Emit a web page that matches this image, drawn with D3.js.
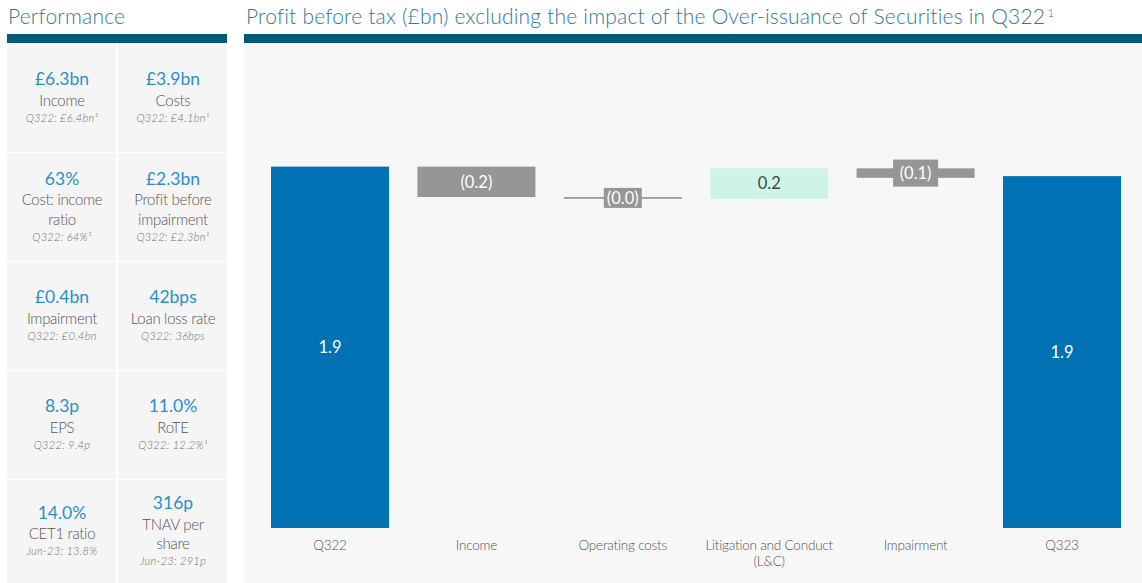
<!DOCTYPE html>
<html><head><meta charset="utf-8">
<script src="https://cdn.jsdelivr.net/npm/d3@7"></script>
<style>
html,body{margin:0;padding:0;background:#fff;}
svg{display:block;}
text{font-family:Lato,"Open Sans",sans-serif;}
</style></head>
<body>
<script>
// ---- Data ----
const categories = ["Q322","Income","Operating costs","Litigation and Conduct\n(L&C)","Impairment","Q323"];
const stepValues = [1.90, -0.16, -0.009, 0.16, -0.05, 1.85];
const stepTypes = ["total","delta","delta","delta","delta","total"];
const stepLabels = ["1.9","(0.2)","(0.0)","0.2","(0.1)","1.9"];

const perfValues = ["£6.3bn","£3.9bn","63%","£2.3bn","£0.4bn","42bps","8.3p","11.0%","14.0%","316p"];
const perfLabels = ["Income","Costs","Cost: income\nratio","Profit before\nimpairment","Impairment","Loan loss rate","EPS","RoTE","CET1 ratio","TNAV per\nshare"];
const perfCompare = ["Q322: £6.4bn¹","Q322: £4.1bn¹","Q322: 64%¹","Q322: £2.3bn¹","Q322: £0.4bn","Q322: 36bps","Q322: 9.4p","Q322: 12.2%¹","Jun-23: 13.8%","Jun-23: 291p"];

const titleLeft = "Performance";
const titleRight = "Profit before tax (£bn) excluding the impact of the Over-issuance of Securities in Q322";

// ---- Drawing ----
const W = 1142, H = 583;
const svg = d3.select("body").append("svg").attr("width", W).attr("height", H);

const teal = "#005a78", titleCol = "#337a96";

// Left panel
svg.append("text").attr("x", 8).attr("y", 24).attr("font-size", 21).attr("font-weight", 300).attr("letter-spacing", 0.2).attr("fill", titleCol).text(titleLeft);
svg.append("rect").attr("x", 7).attr("y", 34).attr("width", 220).attr("height", 9).attr("fill", teal);

const colX = d3.scaleBand().domain([0,1]).range([7, 227]);
const rowEdges = [43, 152, 261, 370, 479, 583];
const g = svg.append("g");
perfValues.forEach((v, i) => {
  const c = i % 2, r = Math.floor(i / 2);
  const x0 = colX(c), y0 = rowEdges[r], h = rowEdges[r+1] - rowEdges[r];
  g.append("rect").attr("x", x0 + (c ? 1 : 0)).attr("y", y0 + (r ? 1 : 0))
    .attr("width", colX.bandwidth() - 1).attr("height", h - (r ? 1 : 0)).attr("fill", "#f5f5f5");
  const lines = perfLabels[i].split("\n");
  const cx = x0 + colX.bandwidth() / 2 + (c ? 1 : 0);
  const lineH = 19.5;
  const blockH = 22 + lines.length * lineH + 17;
  const top = y0 + (h - blockH) / 2;
  g.append("text").attr("x", cx).attr("y", top + 17).attr("text-anchor", "middle")
    .attr("font-size", 17.5).attr("fill", "#2b8fcb").text(v);
  lines.forEach((l, k) => {
    g.append("text").attr("x", cx).attr("y", top + 22 + (k + 1) * lineH - 4).attr("text-anchor", "middle")
      .attr("font-size", 15).attr("font-weight", 300).attr("fill", "#555").attr("letter-spacing", -0.3).text(l);
  });
  g.append("text").attr("x", cx).attr("y", top + 22 + lines.length * lineH + 12).attr("text-anchor", "middle")
    .attr("font-size", 11).attr("font-weight", 300).attr("font-style", "italic").attr("letter-spacing", 0.3).attr("fill", "#6f6f6f").text(perfCompare[i]);
});

// Right panel
const tt = svg.append("text").attr("x", 246).attr("y", 24).attr("font-size", 21).attr("font-weight", 300).attr("letter-spacing", 0.2).attr("fill", titleCol);
tt.append("tspan").text(titleRight);
tt.append("tspan").attr("font-size", 12).attr("dy", -7).attr("dx", 2).text("1");
svg.append("rect").attr("x", 244).attr("y", 34).attr("width", W - 244).attr("height", 9).attr("fill", teal);
svg.append("rect").attr("x", 244).attr("y", 43).attr("width", W - 244).attr("height", H - 43).attr("fill", "#f7f7f7");

const x = d3.scaleBand().domain(categories).range([256.8, 1135.2]).paddingInner(0.194).paddingOuter(0.097);
const y = d3.scaleLinear().domain([0, 2.5]).range([528, 52.5]);

// compute waterfall
let run = 0;
const bars = categories.map((c, i) => {
  let lo, hi;
  if (stepTypes[i] === "total") { lo = 0; hi = stepValues[i]; run = stepValues[i]; }
  else { const s = run; run = run + stepValues[i]; lo = Math.min(s, run); hi = Math.max(s, run); }
  return {c, lo, hi, v: stepValues[i], type: stepTypes[i], label: stepLabels[i]};
});

const colorOf = d => d.type === "total" ? "#0072b4" : (d.v < 0 ? "#969696" : "#cdf4e6");
const chart = svg.append("g");
chart.selectAll("rect.bar").data(bars).join("rect").attr("class", "bar")
  .attr("x", d => x(d.c)).attr("width", x.bandwidth())
  .attr("y", d => y(d.hi)).attr("height", d => Math.max(1.6, y(d.lo) - y(d.hi)))
  .attr("fill", colorOf);

// value labels
bars.forEach(d => {
  const cx = x(d.c) + x.bandwidth() / 2;
  const h = y(d.lo) - y(d.hi);
  let cy = (y(d.lo) + y(d.hi)) / 2;
  const small = h < 20;
  if (small) {
    const bw = d.label === "(0.0)" ? 38 : 45, bh = d.label === "(0.0)" ? 20 : 27;
    chart.append("rect").attr("x", cx - bw / 2).attr("y", cy - bh / 2).attr("width", bw).attr("height", bh).attr("fill", "#969696");
  }
  chart.append("text").attr("x", cx).attr("y", cy).attr("dy", "0.36em").attr("text-anchor", "middle")
    .attr("font-family", "'Open Sans',sans-serif").attr("font-size", 16.5)
    .attr("fill", d.type === "delta" && d.v > 0 ? "#444" : "#fff").text(d.label);
});

// category axis labels
bars.forEach(d => {
  const cx = x(d.c) + x.bandwidth() / 2;
  d.c.split("\n").forEach((l, k) => {
    chart.append("text").attr("x", cx).attr("y", 550 + k * 16).attr("text-anchor", "middle")
      .attr("font-size", 13.5).attr("font-weight", 300).attr("fill", "#555").attr("letter-spacing", -0.2).text(l);
  });
});
</script>
</body></html>
